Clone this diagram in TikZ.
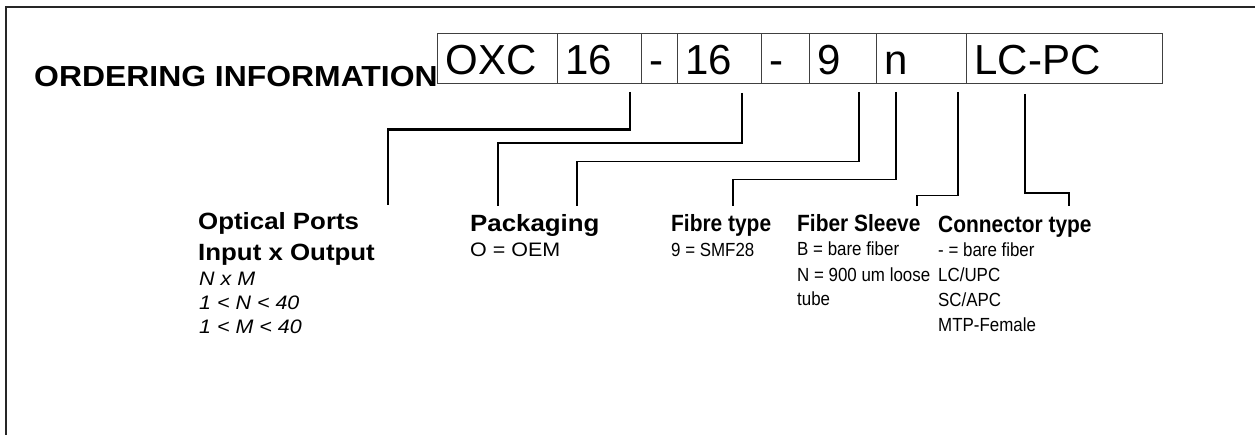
\documentclass[tikz,border=0pt]{standalone}
\usepackage{fontspec}
\setmainfont{Liberation Sans}
\newfontfamily\wideF[FakeStretch=1.1]{Liberation Sans}
\newfontfamily\narrowF[FakeStretch=0.89]{Liberation Sans}
\begin{document}
\begin{tikzpicture}[x=1pt,y=-1pt,
  cell/.style={draw=black!75, line width=1.1pt, anchor=north west, inner xsep=8pt, inner ysep=0pt,
    text height=40.5pt, text depth=9.5pt, align=left,
    font={\fontsize{42}{48}\selectfont}},
  lbl/.style={anchor=base west, inner sep=0pt, align=left},
  headL/.style={lbl, font={\wideF\bfseries\fontsize{23.5}{31}\selectfont}},
  bodyL/.style={lbl, font={\wideF\fontsize{19.5}{24}\selectfont}},
  headR/.style={lbl, font={\narrowF\bfseries\fontsize{23.5}{31}\selectfont}},
  bodyR/.style={lbl, font={\narrowF\fontsize{19}{25}\selectfont}},
  conn/.style={draw=black, line width=1.8pt, line join=miter}
]
\useasboundingbox (0,0) rectangle (1255,435);
% frame
\draw[line width=2pt, black!85] (6,435) -- (6,7) -- (1255,7);

% title
\node[lbl, font={\wideF\bfseries\fontsize{29}{34}\selectfont}] (title) at (34,86.5) {ORDERING INFORMATION};

% code cells
\node[cell, text width=104pt] (oxc)  at (437,33) {OXC};
\node[cell, text width=68pt]  (n16a) at (557,33) {16};
\node[cell, text width=20pt]  (d1)   at (641,33) {-};
\node[cell, text width=68pt]  (n16b) at (677,33) {16};
\node[cell, text width=32pt]  (d2)   at (761,33) {-};
\node[cell, text width=51pt]  (n9)   at (809,33) {9};
\node[cell, text width=74pt]  (nn)   at (876,33) {n};
\node[cell, text width=180pt] (lcpc) at (966,33) {LC-PC};

% labels (base anchor of a multi-line node = baseline of its last line)
\node[headL] (ports) at (198,261) {Optical Ports\\Input x Output};
\node[bodyL, font={\wideF\itshape\fontsize{19.5}{24}\selectfont}] (portsb) at (199,334) {N x M\\1 < N < 40\\1 < M < 40};
\node[headL] (pack) at (470,231.5) {Packaging};
\node[bodyL] (packb) at (470,257) {O = OEM};
\node[headR] (fibre) at (671,232) {Fibre type};
\node[bodyR] (fibreb) at (671,257) {9 = SMF28};
\node[headR] (sleeve) at (797,232) {Fiber Sleeve};
\node[bodyR] (sleeveb) at (797,306) {B = bare fiber\\N = 900 um loose\\tube};
\node[headR] (conty) at (938,232.5) {Connector type};
\node[bodyR] (contyb) at (938,332) {- = bare fiber\\LC/UPC\\SC/APC\\MTP-Female};

% connector end points
\coordinate (c1s) at (630,92);   \coordinate (c1e) at (388,205);
\coordinate (c2s) at (742,93);   \coordinate (c2e) at (498,206);
\coordinate (c3s) at (859,92);   \coordinate (c3e) at (577,206);
\coordinate (c4s) at (896,92);   \coordinate (c4e) at (733,206);
\coordinate (c5s) at (958,92);   \coordinate (c5e) at (917,206);
\coordinate (c6s) at (1025,94);  \coordinate (c6e) at (1069,206);

\draw[conn, line width=2.2pt] (c1s) -- ++(0,37.5) -| (c1e);
\draw[conn] (c2s) -- ++(0,50) -| (c2e);
\draw[conn, line width=1.6pt] (c3s) -- ++(0,69.5) -| (c3e);
\draw[conn] (c4s) -- ++(0,87.5) -| (c4e);
\draw[conn, line width=1.6pt] (c5s) -- ++(0,103.5) -| (c5e);
\draw[conn] (c6s) -- ++(0,99) -| (c6e);
\end{tikzpicture}
\end{document}
